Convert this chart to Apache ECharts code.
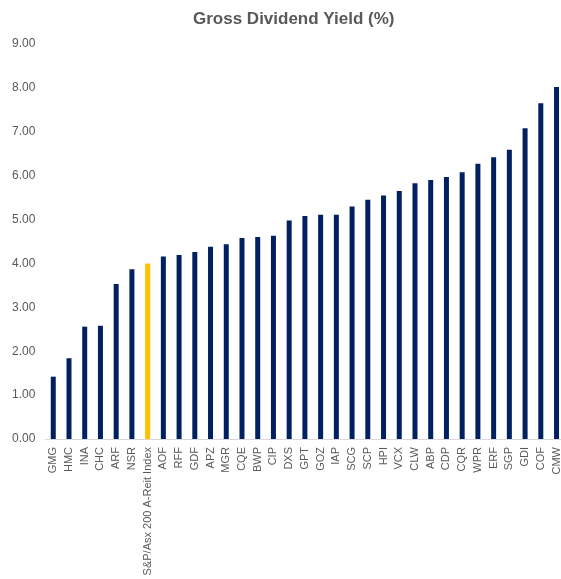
<!DOCTYPE html>
<html>
<head>
<meta charset="utf-8">
<script src="https://cdn.jsdelivr.net/npm/echarts@6/dist/echarts.min.js"></script>
<style>html,body{margin:0;padding:0;background:#fff;}#c{width:561px;height:579px;}</style>
</head>
<body>
<div id="c"></div>
<script>
const titleText = 'Gross Dividend Yield (%)';
const categories = ['GMG','HMC','INA','CHC','ARF','NSR','S&P/Asx 200 A-Reit Index','AOF','RFF','GDF','APZ','MGR','CQE','BWP','CIP','DXS','GPT','GOZ','IAP','SCG','SCP','HPI','VCX','CLW','ABP','CDP','CQR','WPR','ERF','SGP','GDI','COF','CMW'];
const yieldValues = [1.42,1.84,2.56,2.58,3.53,3.87,4.00,4.16,4.19,4.26,4.38,4.44,4.58,4.60,4.63,4.98,5.08,5.11,5.11,5.30,5.45,5.55,5.65,5.83,5.90,5.97,6.08,6.27,6.42,6.59,7.08,7.65,8.02];
const highlightCategory = 'S&P/Asx 200 A-Reit Index';
const yTicks = [0,1,2,3,4,5,6,7,8,9];

const barColor = '#002060';
const highlightColor = '#FFC000';
const data = yieldValues.map((v, i) => ({
  value: v,
  itemStyle: { color: categories[i] === highlightCategory ? highlightColor : barColor }
}));

const chart = echarts.init(document.getElementById('c'));
chart.setOption({
  animation: false,
  title: {
    text: titleText, left: 188, top: 6,
    textStyle: { fontFamily: 'Liberation Sans', fontSize: 17, fontWeight: 'bold', color: '#595959' }
  },
  grid: { left: 45.4, right: -3.4, top: 44, bottom: 140, containLabel: false, outerBoundsMode: 'none' },
  xAxis: {
    type: 'category', data: categories,
    axisLine: { lineStyle: { color: '#D9D9D9' } },
    axisTick: { show: false },
    axisLabel: { rotate: 90, interval: 0, margin: 8, fontFamily: 'Liberation Sans', fontSize: 11, color: '#595959' }
  },
  yAxis: {
    type: 'value', min: yTicks[0], max: yTicks[yTicks.length - 1], interval: 1,
    splitLine: { show: false },
    axisLine: { show: false }, axisTick: { show: false },
    axisLabel: { margin: 10, fontFamily: 'Liberation Sans', fontSize: 12, color: '#595959', formatter: v => v.toFixed(2) }
  },
  series: [{ type: 'bar', data: data, barWidth: 5 }]
});
</script>
</body>
</html>
